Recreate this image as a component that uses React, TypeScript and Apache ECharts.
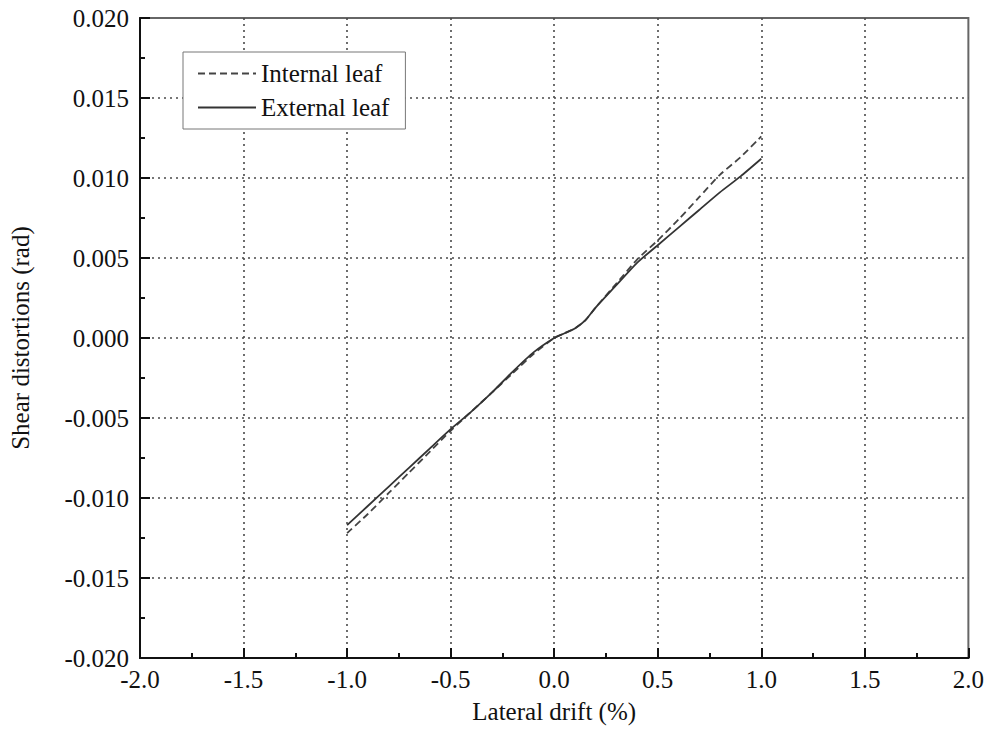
import React, { useEffect, useRef } from "react";
import * as echarts from "echarts";

const xInternal = [-1.0, -0.9, -0.8, -0.7, -0.6, -0.5, -0.4, -0.3, -0.2, -0.1, 0, 0.05, 0.1, 0.15, 0.2, 0.3, 0.4, 0.5, 0.6, 0.7, 0.8, 0.9, 1.0];
const yInternal = [-0.0122, -0.011, -0.0097, -0.0084, -0.0071, -0.0058, -0.0046, -0.0034, -0.0022, -0.001, 0, 0.0003, 0.0006, 0.0011, 0.0019, 0.0034, 0.0049, 0.0061, 0.0074, 0.0088, 0.0102, 0.0113, 0.0126];
const xExternal = [-1.0, -0.9, -0.8, -0.7, -0.6, -0.5, -0.4, -0.3, -0.2, -0.1, 0, 0.05, 0.1, 0.15, 0.2, 0.3, 0.4, 0.5, 0.6, 0.7, 0.8, 0.9, 1.0];
const yExternal = [-0.0117, -0.0105, -0.0093, -0.0081, -0.0069, -0.0057, -0.0046, -0.0034, -0.0021, -0.0009, 0, 0.0003, 0.0006, 0.0011, 0.0019, 0.0033, 0.0047, 0.0058, 0.0069, 0.008, 0.0091, 0.0101, 0.0112];

const seriesNames = ["Internal leaf", "External leaf"];
const xTitle = "Lateral drift (%)";
const yTitle = "Shear distortions (rad)";

const FONT = "Liberation Serif, Times New Roman, Times, DejaVu Serif, serif";
const FS = 25;

export default function App() {
  const ref = useRef<HTMLDivElement>(null);
  useEffect(() => {
    if (!ref.current) return;
    const chart = echarts.init(ref.current, null, { renderer: "svg" });
    const gridLine = { show: true, showMinLine: false, showMaxLine: false, lineStyle: { color: "#4a4a4a", width: 1.6, type: [2, 4] as any } };
    const txt = { fontSize: FS, fontFamily: FONT, color: "#111" };
    chart.setOption({
      animation: false,
      backgroundColor: "#fff",
      textStyle: { fontFamily: FONT },
      grid: { left: 131, top: 18, width: 839, height: 640, show: true, borderColor: "#666", borderWidth: 2, backgroundColor: "#fff" },
      legend: {
        left: 183,
        top: 52,
        orient: "vertical",
        padding: [9, 16, 9, 14],
        itemGap: 9,
        itemWidth: 58,
        itemHeight: 24,
        borderColor: "#777",
        borderWidth: 1,
        backgroundColor: "#fff",
        data: seriesNames,
        itemStyle: { opacity: 0, borderWidth: 0 },
        textStyle: { ...txt, fontSize: 25 },
      },
      xAxis: {
        type: "value",
        min: -2,
        max: 2,
        interval: 0.5,
        name: xTitle,
        nameLocation: "middle",
        nameGap: 41,
        nameTextStyle: txt,
        axisLine: { show: true, onZero: false, lineStyle: { color: "#111", width: 2 } },
        axisTick: { show: true, inside: true, length: 10, lineStyle: { color: "#111", width: 2 } },
        minorTick: { show: true, splitNumber: 2, length: 5, lineStyle: { color: "#111", width: 2 } },
        axisLabel: { ...txt, margin: 9, formatter: (v: number) => v.toFixed(1) },
        splitLine: gridLine,
      },
      yAxis: {
        type: "value",
        min: -0.02,
        max: 0.02,
        interval: 0.005,
        name: yTitle,
        nameLocation: "middle",
        nameGap: 107,
        nameTextStyle: txt,
        axisLine: { show: true, onZero: false, lineStyle: { color: "#111", width: 2 } },
        axisTick: { show: true, inside: true, length: 10, lineStyle: { color: "#111", width: 2 } },
        minorTick: { show: true, splitNumber: 2, length: 5, lineStyle: { color: "#111", width: 2 } },
        axisLabel: { ...txt, margin: 11, formatter: (v: number) => v.toFixed(3) },
        splitLine: gridLine,
      },
      series: [
        {
          name: seriesNames[0],
          type: "line",
          symbol: "none",
          smooth: 0.2,
          data: xInternal.map((x, i) => [x, yInternal[i]]),
          lineStyle: { color: "#444", width: 1.8, type: [7, 4] as any },
          itemStyle: { color: "#444" },
        },
        {
          name: seriesNames[1],
          type: "line",
          symbol: "none",
          smooth: 0.2,
          data: xExternal.map((x, i) => [x, yExternal[i]]),
          lineStyle: { color: "#333", width: 1.8, type: "solid" },
          itemStyle: { color: "#333" },
        },
      ],
    });
    return () => chart.dispose();
  }, []);
  return <div ref={ref} style={{ position: "absolute", left: 0, top: 0, width: 987, height: 738 }} />;
}
